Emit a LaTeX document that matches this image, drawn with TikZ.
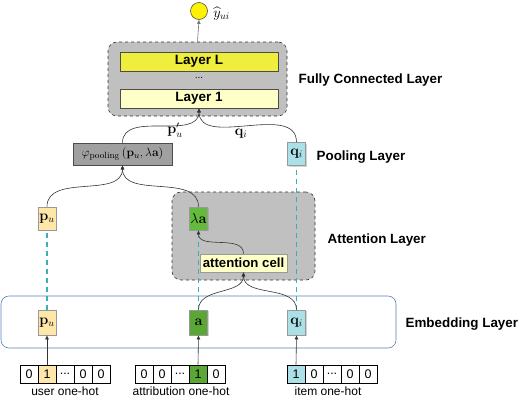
\documentclass[tikz,border=0pt]{standalone}
\usepackage{amsmath}
\usepackage[no-math]{fontspec}
\setmainfont{Liberation Sans}
\usepackage{tikz}
\usetikzlibrary{arrows.meta, shadows}

\definecolor{layerLfill}{RGB}{240,238,60}
\definecolor{layerOnefill}{RGB}{255,255,200}
\definecolor{boxgray}{RGB}{192,192,192}
\definecolor{poolgray}{RGB}{160,160,160}
\definecolor{userfill}{RGB}{255,231,170}
\definecolor{attrfill}{RGB}{100,186,60}
\definecolor{itemfill}{RGB}{170,224,230}
\definecolor{dashcyan}{RGB}{60,176,176}
\definecolor{embblue}{RGB}{90,128,180}

\newcommand\gapdots{...}

\tikzset{
  vecbox/.style={draw=black!40, minimum width=18pt, minimum height=23pt, inner sep=0.5pt,
                 font=\fontsize{14}{16}\selectfont,
                 drop shadow={shadow xshift=1.2pt, shadow yshift=-1.2pt, opacity=0.35}},
  layerbox/.style={draw=black!70, minimum width=158pt, minimum height=19pt, inner sep=0pt,
                   font=\fontsize{13.5}{15}\selectfont\bfseries},
  groupbox/.style={draw=black!80, dashed, rounded corners=9pt, fill=boxgray},
  cellbox/.style={draw=black, minimum width=18pt, minimum height=18pt, inner sep=0pt,
                  font=\fontsize{12.5}{14}\selectfont},
  layername/.style={anchor=west, font=\fontsize{13.4}{15}\selectfont\bfseries},
  hotname/.style={font=\fontsize{12}{14}\selectfont},
  feed/.style={draw=black!80, -{Latex[length=4pt, width=4pt]}},
  skip/.style={draw=dashcyan, dashed, dash pattern=on 5pt off 4pt, line width=1.1pt}
}

\begin{document}
\begin{tikzpicture}[x=1pt, y=-1pt, line width=0.6pt]
\useasboundingbox (0,0) rectangle (521,402);

% draw group boxes
\node[groupbox, minimum width=179pt, minimum height=74pt] (fc) at (197.5,79) {};
\node[groupbox, minimum width=143pt, minimum height=88pt] (att) at (243.5,236) {};
\node[draw=embblue, rounded corners=8pt, minimum width=395pt, minimum height=52pt] (emb) at (198.5,322) {};

% draw output unit
\node[circle, draw=black!70, fill=yellow, minimum size=17pt, inner sep=0pt] (out) at (199,11) {};
\node[anchor=west, inner sep=1pt, font=\fontsize{14}{16}\selectfont] (yhat) at (212,14) {$\widehat{y}_{ui}$};

% draw fully connected layers
\node[layerbox, fill=layerLfill] (layerL) at (199,61.5) {Layer L};
\node (vdots) at (199,78) {\fontsize{10}{10}\selectfont ...};
\node[layerbox, fill=layerOnefill] (layer1) at (199,98.5) {Layer 1};

% draw pooling layer
\node[draw=black!70, fill=poolgray, minimum width=99pt, minimum height=22pt, inner sep=1pt,
      font=\fontsize{13}{15}\selectfont,
      drop shadow={shadow xshift=1.2pt, shadow yshift=-1.2pt, opacity=0.35}] (pool) at (122.5,154)
     {$\varphi_{\mathrm{pooling}}\left(\mathbf{p}_u,\lambda\mathbf{a}\right)$};
\node[vecbox, fill=itemfill] (qpool) at (296.5,154) {$\mathbf{q}_i$};

% draw attention layer
\node[vecbox, fill=userfill] (pu) at (47,218.5) {$\mathbf{p}_u$};
\node[vecbox, fill=attrfill] (la) at (198.5,218.5) {$\lambda\mathbf{a}$};
\node[draw=black!40, fill=layerOnefill, minimum width=87pt, minimum height=18pt, inner sep=0pt,
      font=\fontsize{13.2}{15}\selectfont\bfseries,
      drop shadow={shadow xshift=1.2pt, shadow yshift=-1.2pt, opacity=0.35}] (cell) at (243.5,263) {attention cell};

% draw embedding layer
\node[vecbox, fill=userfill, minimum height=25pt] (pue) at (47,322.5) {$\mathbf{p}_u$};
\node[vecbox, fill=attrfill!90!black, minimum height=25pt] (ae) at (198.5,322.5) {$\mathbf{a}$};
\node[vecbox, fill=itemfill, minimum height=25pt] (qe) at (296.5,322.5) {$\mathbf{q}_i$};

% draw one-hot vectors
\foreach \v/\c [count=\i] in {0/white,1/userfill,\gapdots/white,0/white,0/white}
  \node[cellbox, fill=\c] (u\i) at (11+18*\i,374) {\v};
\foreach \v/\c [count=\i] in {0/white,0/white,\gapdots/white,1/attrfill!90!black,0/white}
  \node[cellbox, fill=\c] (a\i) at (126+18*\i,374) {\v};
\foreach \v/\c [count=\i] in {1/itemfill,0/white,\gapdots/white,0/white,0/white}
  \node[cellbox, fill=\c] (i\i) at (278+18*\i,374) {\v};

% draw one-hot labels
\node[hotname] (uname) at (65,391) {user one-hot};
\node[hotname] (aname) at (181,391) {attribution one-hot};
\node[hotname] (iname) at (328,391) {item one-hot};

% draw layer labels
\node[layername] (fcname) at (295,80) {Fully Connected Layer};
\node[layername] (poolname) at (313,157) {Pooling Layer};
\node[layername] (attname) at (324,240) {Attention Layer};
\node[layername] (embname) at (402,324) {Embedding Layer};

% draw skip lines
\draw[skip] (pue.north) -- (pu.south);
\draw[skip] (ae.north) -- (la.south);
\draw[skip] (qe.north) -- (qpool.south);

% draw lookups
\draw[feed] (u2.north) -- (pue.south);
\draw[feed] (a4.north) -- (ae.south);
\draw[feed] (i1.north) -- (qe.south);

% draw curved connections
\draw[feed] (ae.north) to[out=90, in=-90] (cell.south);
\draw[feed] (qe.north) to[out=90, in=-90] (cell.south);
\draw[feed] (cell.north) to[out=90, in=-90] (la.south);
\draw[feed] (pu.north) to[out=90, in=-90] (pool.south);
\draw[feed] (la.north) to[out=90, in=-90] (pool.south);
\draw[feed] (pool.north) to[out=90, in=-90] (layer1.south);
\draw[feed] (qpool.north) to[out=90, in=-90] (layer1.south);
\draw[feed, draw=black!55] (fc.north) -- (out.south);

% draw connection labels
\node[font=\fontsize{14}{16}\selectfont] (pprime) at (175,130) {$\mathbf{p}'_u$};
\node[font=\fontsize{14}{16}\selectfont] (qlab) at (241,134) {$\mathbf{q}_i$};

\end{tikzpicture}
\end{document}
